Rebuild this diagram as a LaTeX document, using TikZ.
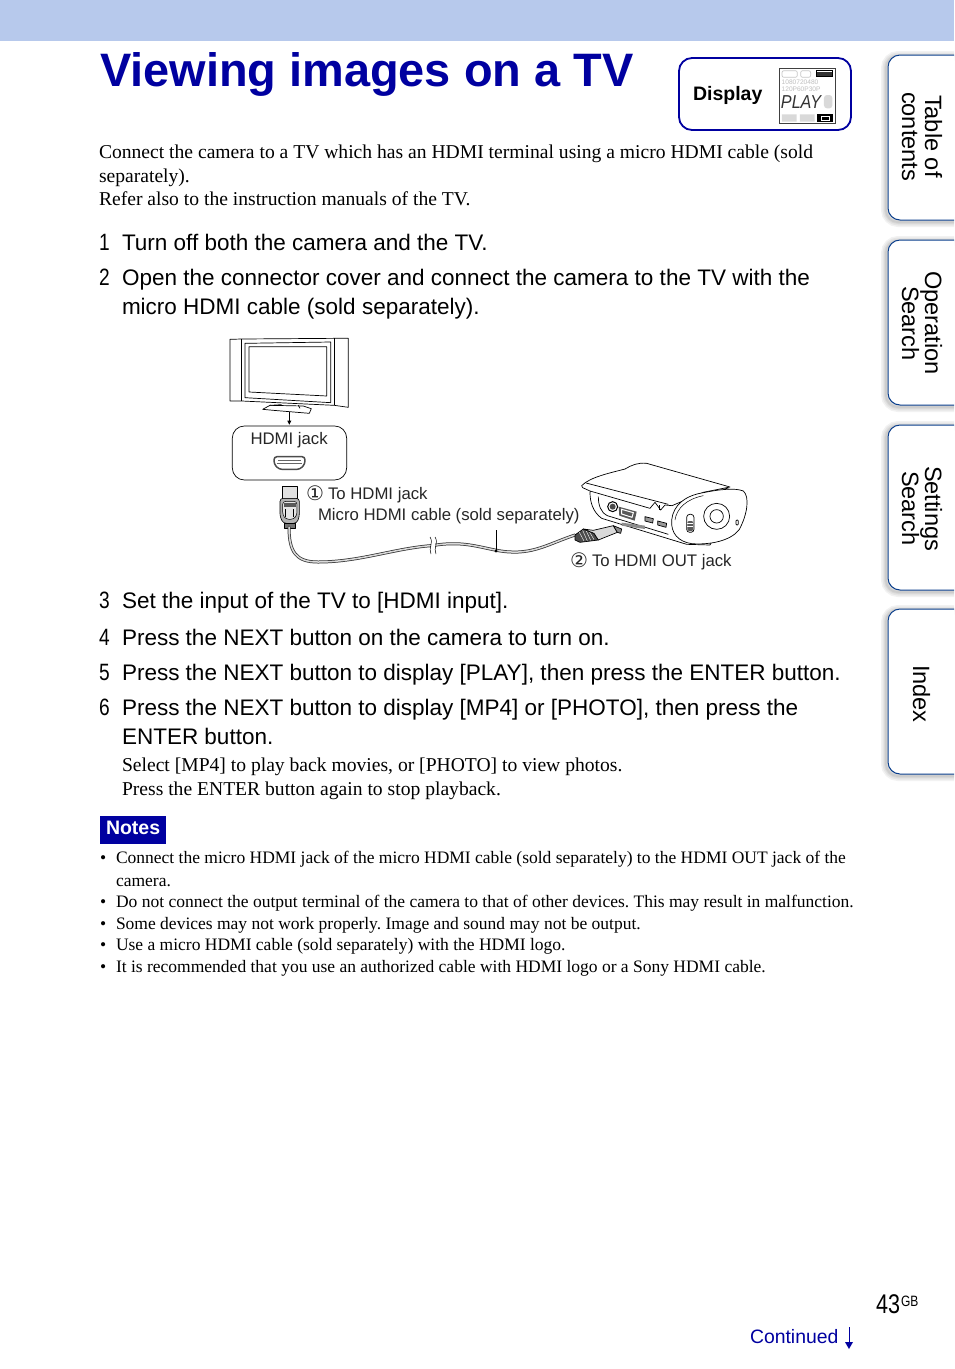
\documentclass[tikz,border=0pt]{standalone}
\usepackage{fontspec}
\setmainfont{Liberation Serif}
\setsansfont{Liberation Sans}
\newfontfamily\djv{DejaVu Sans}
\definecolor{sonyblue}{HTML}{0000A0}
\definecolor{band}{HTML}{B7C9EC}
\definecolor{tabline}{HTML}{0A3E8C}
\newcommand{\nw}[1]{\scalebox{.85}[1.05]{#1}}
\newcommand{\fs}[1]{\fontsize{#1}{#1}\selectfont}
\tikzset{
 txt/.style={anchor=base west,inner sep=0pt,outer sep=0pt,execute at begin node=\frenchspacing},
 body/.style={txt,font=\fs{19.6}},
 stepn/.style={txt,font=\sffamily\fs{22.5}},
 notet/.style={txt,font=\fs{17.5}},
 lab/.style={txt,font=\sffamily\fs{16.75},text=black!85},
 tabt/.style={txt,rotate=-90,font=\sffamily\fs{23.6}},
 ln/.style={line width=.7pt,black,line join=round},
 tabb/.style={line width=1pt,draw=tabline,fill=white,rounded corners=12pt},
 tabs/.style={line width=#1,draw=black,opacity=.05,rounded corners=12pt},
}
\begin{document}
\begin{tikzpicture}[x=1pt,y=-1pt]
\useasboundingbox (0,0) rectangle (954,1369);
\fill[white] (0,0) rectangle (954,1369);
\fill[band] (0,0) rectangle (954,41);
\node[txt,font=\sffamily\bfseries\fs{46.9},text=sonyblue] (title) at (100,86) {Viewing images on a TV};
% display box
\node[draw=sonyblue,line width=1.8pt,rounded corners=13pt,minimum width=172pt,minimum height=72pt,inner sep=0pt] (dispbox) at (765,94) {};
\node[txt,font=\sffamily\bfseries\fs{19.5}] (disp) at (693,100) {Display};
\begin{scope}[shift={(670,45)},x=.3333pt,y=-.3333pt]
 \fill[white] (329,70) rectangle (495,235);
 \draw[line width=.7pt,black!75] (329,70) rectangle (495,235);
 \draw[black!22,line width=.7pt,rounded corners=2pt] (336,77) rectangle (382,97) (392,77) rectangle (422,97);
 \draw[black,line width=.8pt] (438,77) rectangle (488,95);
 \fill[black!80] (442,80) rectangle (485,92);
 \node[txt,font=\sffamily\fs{6.6},text=black!25] (seg1) at (335,118) {1080720480};
 \node[txt,font=\sffamily\fs{6.6},text=black!25] (seg2) at (335,139) {120P60P30P};
 \fill[black!15,rounded corners=3pt] (462,150) rectangle (487,190);
 \node[txt,font=\sffamily\itshape\fs{17},text=black!80] (play) at (333,192) {\scalebox{.95}[1.1]{PLAY}};
 \fill[black!15] (336,208) rectangle (380,230) (390,208) rectangle (434,230);
 \fill[black] (442,207) rectangle (490,231);
 \draw[white,line width=.7pt] (455,213) rectangle (478,225);
\end{scope}
% intro
\node[body] (i1) at (99,158) {Connect the camera to a TV which has an HDMI terminal using a micro HDMI cable (sold};
\node[body] (i2) at (99,182) {separately).};
\node[body] (i3) at (99,205) {Refer also to the instruction manuals of the TV.};
% steps
\node[stepn] (n1) at (99,250.8) {\nw{1}};
\node[stepn] (s1) at (122,250.8) {Turn off both the camera and the TV.};
\node[stepn] (n2) at (99,285.8) {\nw{2}};
\node[stepn] (s2) at (122,285.8) {Open the connector cover and connect the camera to the TV with the};
\node[stepn] (s2b) at (122,314.8) {micro HDMI cable (sold separately).};
\node[stepn] (n3) at (99,608.8) {\nw{3}};
\node[stepn] (s3) at (122,608.8) {Set the input of the TV to [HDMI input].};
\node[stepn] (n4) at (99,645.8) {\nw{4}};
\node[stepn] (s4) at (122,645.8) {Press the NEXT button on the camera to turn on.};
\node[stepn] (n5) at (99,680.8) {\nw{5}};
\node[stepn] (s5) at (122,680.8) {Press the NEXT button to display [PLAY], then press the ENTER button.};
\node[stepn] (n6) at (99,715.8) {\nw{6}};
\node[stepn] (s6) at (122,715.8) {Press the NEXT button to display [MP4] or [PHOTO], then press the};
\node[stepn] (s6b) at (122,744.8) {ENTER button.};
\node[body] (s6c) at (122,771) {Select [MP4] to play back movies, or [PHOTO] to view photos.};
\node[body] (s6d) at (122,795) {Press the ENTER button again to stop playback.};
% notes
\node[fill=sonyblue,minimum width=66pt,minimum height=28pt,inner sep=0pt] (notes) at (133,830) {};
\node[txt,text=white,font=\sffamily\bfseries\fs{19.5}] (notest) at (106,834) {Notes};
\node[notet] (b1) at (100,863) {•}; \node[notet] (t1) at (116,863) {Connect the micro HDMI jack of the micro HDMI cable (sold separately) to the HDMI OUT jack of the};
\node[notet] (t1b) at (116,886) {camera.};
\node[notet] (b2) at (100,907) {•}; \node[notet] (t2) at (116,907) {Do not connect the output terminal of the camera to that of other devices. This may result in malfunction.};
\node[notet] (b3) at (100,929) {•}; \node[notet] (t3) at (116,929) {Some devices may not work properly. Image and sound may not be output.};
\node[notet] (b4) at (100,950) {•}; \node[notet] (t4) at (116,950) {Use a micro HDMI cable (sold separately) with the HDMI logo.};
\node[notet] (b5) at (100,972) {•}; \node[notet] (t5) at (116,972) {It is recommended that you use an authorized cable with HDMI logo or a Sony HDMI cable.};
% tabs
\foreach \a/\b in {55/220,240/405,425/590,609/774}{
 \foreach \w in {10pt,7pt,4pt,2pt}{
  \draw[tabs=\w] (954,\a+1) -| (886,\b+2) -- (954,\b+2);
 }
 \draw[tabb] (954,\a) -| (888,\b) -- (954,\b);
}
\node[tabt] (ta) at (925,95) {Table of};
\node[tabt] (tb) at (902,92) {contents};
\node[tabt] (tc) at (925,271) {Operation};
\node[tabt] (td) at (902,286) {Search};
\node[tabt] (te) at (925,466) {Settings};
\node[tabt] (tf) at (902,471) {Search};
\node[tabt] (tg) at (913,665) {Index};
% footer
\node[txt,font=\sffamily\fs{27}] (pg) at (876,1313) {\scalebox{.8}[1]{43}};
\node[txt,font=\sffamily\fs{15}] (gb) at (901,1306) {\scalebox{.8}[1]{GB}};
\node[txt,font=\sffamily\fs{19.4},text=sonyblue] (cont) at (750,1343) {Continued};
\coordinate (ca) at (849,1327); \coordinate (cb) at (849,1349);
\draw[sonyblue,line width=1pt] (ca) -- ++(0,16);
\fill[sonyblue] (cb) -- ++(-4,-7) -- ++(8,0) -- cycle;
% TV
\begin{scope}[shift={(220,330)},x=.3333pt,y=-.3333pt]
 \draw[ln,fill=white] (30,28) -- (65,27) -- (343,25) -- (385,25) -- (385,232) -- (343,226) -- (65,213) -- (30,213) -- cycle;
 \draw[ln] (65,27) -- (65,213) (343,25) -- (343,226);
 \draw[ln] (75,40) -- (332,36) -- (332,218) -- (75,203) -- cycle;
 \draw[ln,fill=white] (87,50) -- (320,50) -- (320,198) -- (87,186) -- cycle;
 \draw[ln,fill=white] (128,238) -- (150,226) -- (250,228) -- (274,236) -- (268,250) -- (160,241) -- cycle;
 \draw[ln] (185,224) -- (150,226) (235,226) -- (240,235);
 \coordinate (tvb) at (208,245);
 \coordinate (tva) at (208,275);
 \draw[ln] (tvb) -- (tva);
 \fill (208,284) -- ++(-6,-12) -- ++(12,0) -- cycle;
 % jack box
 \draw[ln,rounded corners=12pt] (37,288) rectangle (380,450);
\end{scope}
\begin{scope}[shift={(265,420)},x=.3333pt,y=-.3333pt]
 % jack icon
 \draw[line width=1.5pt,black!70,fill=white,rounded corners=3pt] (27,110) -- (120,110) -- (120,132) -- (105,148) -- (42,148) -- (27,132) -- cycle;
 \draw[line width=.7pt,black!60,rounded corners=1pt] (40,122) -- (108,122) (35,130) -- (112,130);
 % HDMI plug
 \draw[ln,line width=.6pt,fill=black!12] (52,198) rectangle (97,235);
 \draw[ln,line width=.6pt,fill=black!30,rounded corners=3pt] (45,235) -- (103,235) -- (103,290) -- (95,310) -- (55,310) -- (45,290) -- cycle;
 \draw[ln,line width=.5pt,fill=black!10,rounded corners=3pt] (53,244) -- (96,244) -- (96,285) -- (86,298) -- (63,298) -- (53,285) -- cycle;
 \fill[black!65] (56,250) rectangle (92,262);
 \draw[ln,line width=.4pt] (62,268) -- (62,290) (86,268) -- (86,290);
 \draw[ln,line width=.6pt,fill=black!55] (57,310) rectangle (92,325);
\end{scope}
% cable
\coordinate (cabs) at (289,527);
\coordinate (cabe) at (575,535);
\coordinate (brk) at (433,545.5);
\coordinate (leadb) at (496,551);
\coordinate (leada) at (496,530);
\draw[line width=3pt,black!80,line cap=round] (cabs) .. controls (289,552) and (296,562) .. (318,562) .. controls (360,562) and (395,548) .. (brk) .. controls (460,541) and (475,546) .. (495,550) .. controls (530,557) and (545,545) .. (cabe);
\draw[line width=1.5pt,black!15,line cap=round] (cabs) .. controls (289,552) and (296,562) .. (318,562) .. controls (360,562) and (395,548) .. (brk) .. controls (460,541) and (475,546) .. (495,550) .. controls (530,557) and (545,545) .. (cabe);
\fill[white] (431,538) rectangle (435,553);
\draw[ln,line width=.5pt] (430,537) .. controls (434,543) and (428,548) .. (431,554) (435,537) .. controls (439,543) and (433,548) .. (436,554);
\draw[ln] (leada) -- (leadb);
\fill (leadb) circle[radius=1.6pt];
% labels
\node[lab] (jacklab) at (250.5,444) {HDMI jack};
\node[txt,font=\djv\fs{20},text=black!85] (c1) at (306,500) {①};
\node[lab] (l1) at (328,499) {To HDMI jack};
\node[lab] (l2) at (318,520) {Micro HDMI cable (sold separately)};
\node[txt,font=\djv\fs{20},text=black!85] (c2) at (570,567) {②};
\node[lab] (l3) at (592,566) {To HDMI OUT jack};
% camera
\begin{scope}[shift={(570,455)},x=.3333pt,y=-.3333pt]
 % body
 \draw[ln,fill=white] (60,112) .. controls (60,140) and (68,170) .. (95,190) -- (350,268) -- (420,270) -- (500,110) -- (225,25) -- (75,78) -- cycle;
 % lid
 \draw[ln,fill=white] (35,92) .. controls (60,66) and (120,54) .. (165,42) .. controls (185,30) and (205,22) .. (230,25) -- (480,96) -- (400,112) -- (306,152) -- (285,150) -- (272,165) -- (255,142) -- (240,160) -- (60,108) -- (38,98) -- cycle;
 \draw[ln] (48,84) -- (295,148);
 % recess
 \draw[ln] (85,125) .. controls (85,150) and (92,172) .. (112,182) -- (295,238);
 \draw[ln,line width=1pt] (128,155) circle[radius=5pt];
 \fill[black!70] (128,155) circle[radius=3pt];
 \fill[black!65] (146,155) -- (200,170) -- (194,197) -- (148,182) -- cycle;
 \draw[white,line width=1pt] (155,163) -- (190,173) -- (186,187) -- (155,177) -- cycle;
 \fill[black!45] (155,203) -- (225,212) -- (225,222) -- (155,212) -- cycle;
 \draw[ln,fill=black!40] (225,185) -- (250,191) -- (248,204) -- (225,198) -- cycle;
 \draw[ln,fill=black!40] (263,198) -- (290,205) -- (288,217) -- (263,210) -- cycle;
 \draw[ln] (268,150) -- (268,165);
 % face
 \draw[ln,fill=white] (305,195) .. controls (310,150) and (345,122) .. (400,113) .. controls (450,103) and (495,98) .. (520,108) .. controls (540,125) and (532,180) .. (507,225) .. controls (480,258) and (420,270) .. (365,266) .. controls (325,260) and (302,235) .. (305,195) -- cycle;
 \draw[ln,line width=.5pt] (315,195) .. controls (320,160) and (350,132) .. (400,122);
 \draw[ln] (440,184) circle[radius=13pt];
 \draw[ln] (440,184) circle[radius=6.7pt];
 \draw[ln,rounded corners=1pt] (498,195) rectangle (505,210);
 \draw[ln,rounded corners=3pt] (350,178) rectangle (372,232);
 \fill[black!65,rounded corners=2pt] (352,198) rectangle (370,228);
 \draw[white,line width=.5pt] (352,206) -- (370,206) (352,214) -- (370,214);
 % micro plug
 \draw[ln,fill=black!70] (15,240) -- (40,222) -- (72,235) -- (85,255) -- (30,262) -- (15,255) -- cycle;
 \draw[white,line width=.4pt] (28,232) -- (42,258) (38,226) -- (52,258) (48,226) -- (62,256) (58,230) -- (72,254);
 \draw[ln,fill=black!15] (40,222) -- (70,226) -- (130,212) -- (142,232) -- (85,255) -- (72,235) -- cycle;
 \draw[ln,fill=black!45] (130,212) -- (155,222) -- (152,235) -- (142,232) -- cycle;
\end{scope}
\end{tikzpicture}
\end{document}
